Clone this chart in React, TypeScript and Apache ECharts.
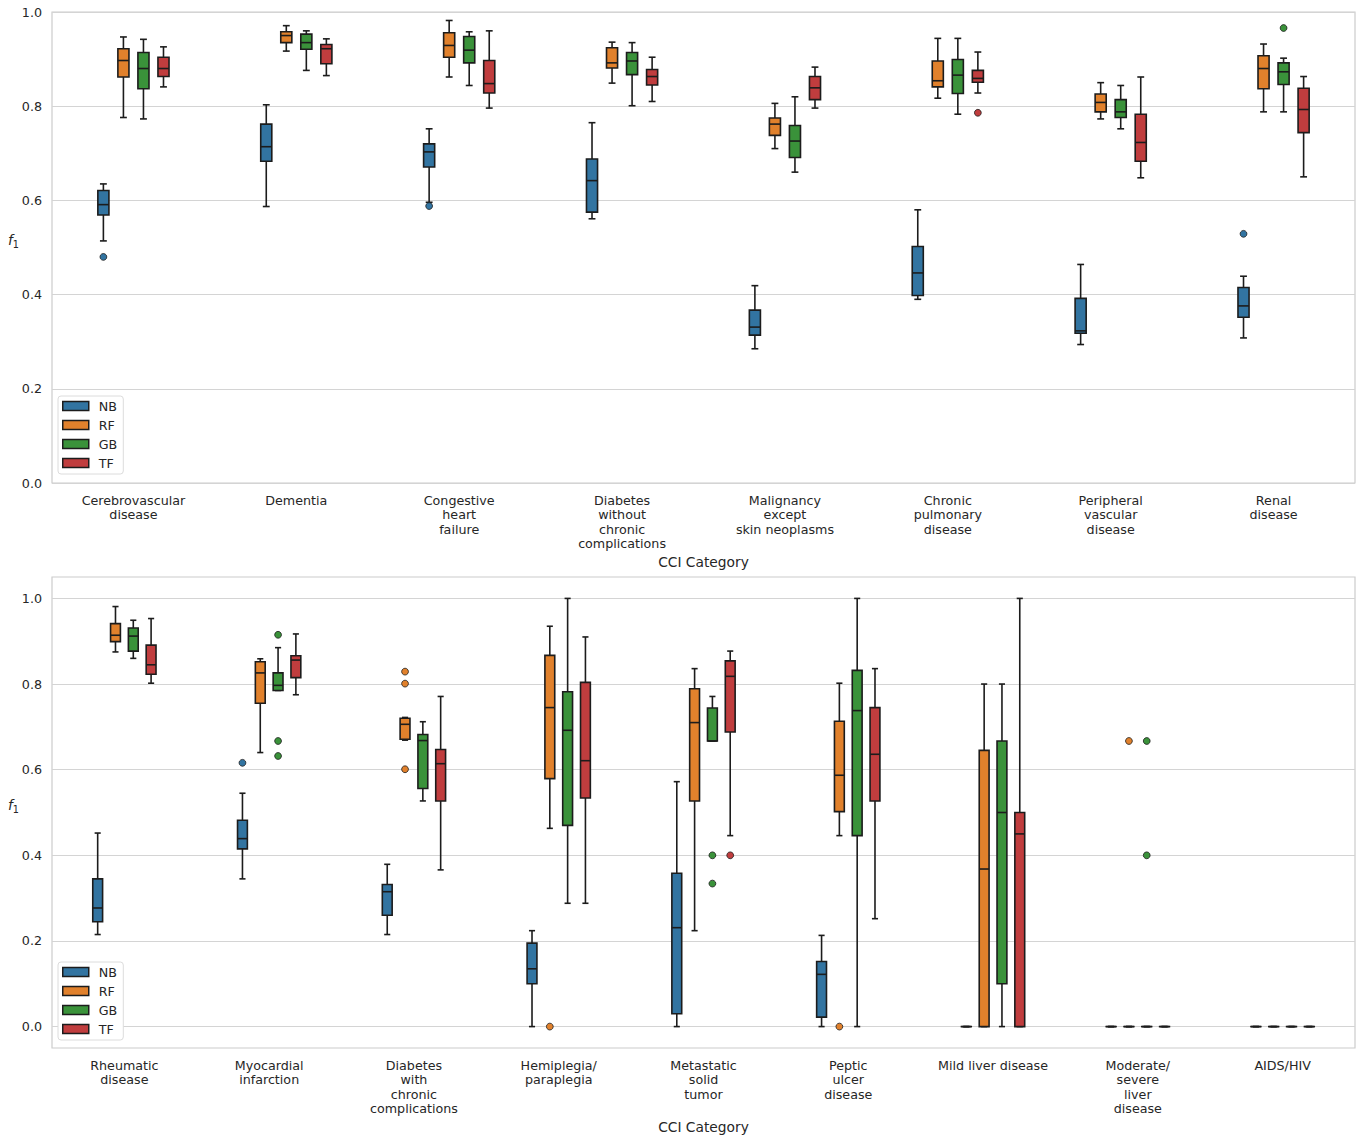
import React, { useEffect, useRef } from "react";
import * as echarts from "echarts";

// Models compared in every CCI category
const MODELS = ["NB", "RF", "GB", "TF"];
const COLORS = ["#3274a1", "#e1812c", "#3a923a", "#c03d3e"];

// ---------- Upper panel ----------
const topCategories = [
  "Cerebrovascular\ndisease",
  "Dementia",
  "Congestive\nheart\nfailure",
  "Diabetes\nwithout\nchronic\ncomplications",
  "Malignancy\nexcept\nskin neoplasms",
  "Chronic\npulmonary\ndisease",
  "Peripheral\nvascular\ndisease",
  "Renal\ndisease",
];

// Each row: [lower whisker, Q1, median, Q3, upper whisker]
const topNB = [
  [0.514, 0.569, 0.591, 0.621, 0.635],
  [0.587, 0.683, 0.714, 0.762, 0.803],
  [0.596, 0.671, 0.703, 0.72, 0.752],
  [0.561, 0.575, 0.642, 0.688, 0.765],
  [0.285, 0.314, 0.331, 0.367, 0.419],
  [0.39, 0.398, 0.446, 0.502, 0.58],
  [0.294, 0.318, 0.323, 0.392, 0.464],
  [0.308, 0.352, 0.376, 0.415, 0.439],
];
const topRF = [
  [0.776, 0.862, 0.897, 0.922, 0.947],
  [0.917, 0.935, 0.95, 0.958, 0.971],
  [0.862, 0.904, 0.929, 0.956, 0.982],
  [0.849, 0.881, 0.892, 0.924, 0.936],
  [0.71, 0.738, 0.762, 0.775, 0.806],
  [0.817, 0.841, 0.854, 0.896, 0.944],
  [0.773, 0.788, 0.808, 0.826, 0.85],
  [0.788, 0.837, 0.88, 0.907, 0.932],
];
const topGB = [
  [0.773, 0.837, 0.88, 0.914, 0.942],
  [0.876, 0.921, 0.935, 0.953, 0.96],
  [0.844, 0.892, 0.919, 0.948, 0.958],
  [0.801, 0.867, 0.896, 0.914, 0.935],
  [0.66, 0.691, 0.726, 0.759, 0.82],
  [0.783, 0.827, 0.866, 0.899, 0.944],
  [0.752, 0.776, 0.788, 0.814, 0.844],
  [0.788, 0.846, 0.873, 0.892, 0.902],
];
const topTF = [
  [0.841, 0.863, 0.88, 0.904, 0.926],
  [0.865, 0.89, 0.922, 0.931, 0.943],
  [0.796, 0.828, 0.848, 0.897, 0.96],
  [0.81, 0.845, 0.863, 0.878, 0.904],
  [0.796, 0.814, 0.839, 0.863, 0.883],
  [0.828, 0.851, 0.859, 0.876, 0.915],
  [0.648, 0.683, 0.723, 0.783, 0.862],
  [0.65, 0.744, 0.793, 0.838, 0.863],
];
// Outliers: [category index, value]
const topOutNB = [[0, 0.48], [2, 0.588], [7, 0.529]];
const topOutRF: number[][] = [];
const topOutGB = [[7, 0.966]];
const topOutTF = [[5, 0.786]];

// ---------- Lower panel ----------
const bottomCategories = [
  "Rheumatic\ndisease",
  "Myocardial\ninfarction",
  "Diabetes\nwith\nchronic\ncomplications",
  "Hemiplegia/\nparaplegia",
  "Metastatic\nsolid\ntumor",
  "Peptic\nulcer\ndisease",
  "Mild liver disease",
  "Moderate/\nsevere\nliver\ndisease",
  "AIDS/HIV",
];

const bottomNB = [
  [0.215, 0.245, 0.277, 0.345, 0.452],
  [0.345, 0.415, 0.439, 0.482, 0.545],
  [0.215, 0.26, 0.315, 0.332, 0.379],
  [0.0, 0.1, 0.135, 0.195, 0.224],
  [0.0, 0.03, 0.231, 0.358, 0.572],
  [0.0, 0.022, 0.122, 0.152, 0.213],
  [0, 0, 0, 0, 0],
  [0, 0, 0, 0, 0],
  [0, 0, 0, 0, 0],
];
const bottomRF = [
  [0.875, 0.899, 0.914, 0.941, 0.981],
  [0.64, 0.755, 0.826, 0.852, 0.859],
  [0.669, 0.671, 0.706, 0.72, 0.722],
  [0.463, 0.579, 0.745, 0.867, 0.935],
  [0.224, 0.527, 0.71, 0.789, 0.836],
  [0.446, 0.502, 0.587, 0.713, 0.802],
  [0.0, 0.0, 0.368, 0.645, 0.8],
  [0, 0, 0, 0, 0],
  [0, 0, 0, 0, 0],
];
const bottomGB = [
  [0.86, 0.877, 0.912, 0.931, 0.949],
  [0.785, 0.785, 0.797, 0.826, 0.885],
  [0.527, 0.556, 0.668, 0.682, 0.712],
  [0.288, 0.47, 0.692, 0.782, 1.0],
  [0.667, 0.667, 0.667, 0.744, 0.771],
  [0.0, 0.446, 0.738, 0.832, 1.0],
  [0.0, 0.1, 0.5, 0.667, 0.8],
  [0, 0, 0, 0, 0],
  [0, 0, 0, 0, 0],
];
const bottomTF = [
  [0.802, 0.823, 0.845, 0.891, 0.953],
  [0.775, 0.815, 0.856, 0.866, 0.917],
  [0.366, 0.527, 0.614, 0.647, 0.771],
  [0.288, 0.534, 0.621, 0.804, 0.91],
  [0.446, 0.688, 0.818, 0.854, 0.877],
  [0.252, 0.527, 0.636, 0.745, 0.836],
  [0.0, 0.0, 0.45, 0.5, 1.0],
  [0, 0, 0, 0, 0],
  [0, 0, 0, 0, 0],
];
const bottomOutNB = [[1, 0.616]];
const bottomOutRF = [[2, 0.829], [2, 0.801], [2, 0.601], [3, 0.0], [5, 0.0], [7, 0.667]];
const bottomOutGB = [[1, 0.915], [1, 0.667], [1, 0.632], [4, 0.4], [4, 0.334], [7, 0.667], [7, 0.4]];
const bottomOutTF = [[4, 0.4]];

const yTicks = [0, 0.2, 0.4, 0.6, 0.8, 1.0];

// Layout of the four boxes inside one category band (fractions of band width)
const SLOT_FRAC = 0.123;
const BOX_FRAC = 0.068;
const EDGE = "#1c1c1c";
const LW = 1.6;
const FONT = "DejaVu Sans";
const TEXT = "#262626";
const GRID_LINE = "#d4d4d4";
const TICK_SIZE = 12.7;

function boxRenderer(slot: number, color: string) {
  return (_params: any, api: any) => {
    const cat = api.value(0);
    const band = api.size([1, 0])[0];
    const cx = api.coord([cat, 0])[0] + (slot - 1.5) * band * SLOT_FRAC;
    const half = (band * BOX_FRAC) / 2;
    const cap = half * 0.62;
    const yAt = (k: number) => api.coord([cat, api.value(k)])[1];
    const yLo = yAt(1);
    const yQ1 = yAt(2);
    const yMed = yAt(3);
    const yQ3 = yAt(4);
    const yHi = yAt(5);
    const ls = { stroke: EDGE, lineWidth: LW, fill: null };
    return {
      type: "group",
      children: [
        { type: "line", shape: { x1: cx, y1: yLo, x2: cx, y2: yQ1 }, style: ls },
        { type: "line", shape: { x1: cx, y1: yQ3, x2: cx, y2: yHi }, style: ls },
        { type: "line", shape: { x1: cx - cap, y1: yLo, x2: cx + cap, y2: yLo }, style: ls },
        { type: "line", shape: { x1: cx - cap, y1: yHi, x2: cx + cap, y2: yHi }, style: ls },
        {
          type: "rect",
          shape: { x: cx - half, y: yQ3, width: half * 2, height: Math.max(yQ1 - yQ3, 0.01) },
          style: { fill: color, stroke: EDGE, lineWidth: LW },
        },
        { type: "line", shape: { x1: cx - half, y1: yMed, x2: cx + half, y2: yMed }, style: ls },
      ],
    };
  };
}

function outlierRenderer(slot: number, color: string) {
  return (_params: any, api: any) => {
    const cat = api.value(0);
    const band = api.size([1, 0])[0];
    const p = api.coord([cat, api.value(1)]);
    const cx = p[0] + (slot - 1.5) * band * SLOT_FRAC;
    return {
      type: "circle",
      shape: { cx, cy: p[1], r: 3.4 },
      style: { fill: color, stroke: EDGE, lineWidth: 0.8 },
    };
  };
}

function buildSeries(axisIndex: number, boxes: number[][][], outliers: number[][][]) {
  const list: any[] = [];
  MODELS.forEach((name, m) => {
    list.push({
      type: "custom",
      name,
      xAxisIndex: axisIndex,
      yAxisIndex: axisIndex,
      itemStyle: { color: COLORS[m] },
      renderItem: boxRenderer(m, COLORS[m]),
      encode: { x: 0, y: [1, 2, 3, 4, 5] },
      data: boxes[m].map((row, i) => [i, ...row]),
      z: 3,
    });
    list.push({
      type: "custom",
      name,
      xAxisIndex: axisIndex,
      yAxisIndex: axisIndex,
      itemStyle: { color: COLORS[m] },
      renderItem: outlierRenderer(m, COLORS[m]),
      encode: { x: 0, y: 1 },
      data: outliers[m],
      z: 4,
    });
  });
  return list;
}

function legendFor(top: number) {
  return {
    orient: "vertical",
    left: 58,
    top,
    icon: "rect",
    itemWidth: 26,
    itemHeight: 9,
    itemGap: 5,
    padding: [3, 6, 4, 4],
    backgroundColor: "#ffffff",
    borderColor: "#dcdcdc",
    borderWidth: 1,
    borderRadius: 3,
    selectedMode: false,
    textStyle: { fontFamily: FONT, fontSize: TICK_SIZE, color: TEXT, lineHeight: 14, padding: [0, 0, 0, 5] },
    data: MODELS.map((name, m) => ({
      name,
      itemStyle: { color: COLORS[m], borderColor: EDGE, borderWidth: 1.5 },
    })),
  };
}

function xAxisFor(gridIndex: number, cats: string[]) {
  return {
    type: "category",
    gridIndex,
    data: cats,
    axisLine: { show: false },
    axisTick: { show: false },
    splitLine: { show: false },
    axisLabel: {
      interval: 0,
      margin: 10,
      fontFamily: FONT,
      fontSize: TICK_SIZE,
      lineHeight: 14.5,
      color: TEXT,
    },
    name: "CCI Category",
    nameLocation: "middle",
    nameGap: 72,
    nameMoveOverlap: false,
    nameTextStyle: { fontFamily: FONT, fontSize: 13.8, color: TEXT },
  };
}

function yAxisFor(gridIndex: number, min: number, max: number) {
  return {
    type: "value",
    gridIndex,
    min,
    max,
    axisLine: { show: false },
    axisTick: { show: false, customValues: yTicks },
    splitLine: { show: true, lineStyle: { color: GRID_LINE, width: 1.1 } },
    axisLabel: {
      customValues: yTicks,
      margin: 10,
      fontFamily: FONT,
      fontSize: TICK_SIZE,
      color: TEXT,
      formatter: (v: number) => v.toFixed(1),
    },
    name: "{f|f}{s|1}",
    nameLocation: "middle",
    nameRotate: 0,
    nameGap: 33,
    nameMoveOverlap: false,
    nameTextStyle: {
      padding: [0, 0, 16, 0],
      rich: {
        f: { fontFamily: FONT, fontStyle: "italic", fontSize: 13.8, color: TEXT, lineHeight: 20, verticalAlign: "middle" },
        s: { fontFamily: FONT, fontSize: 9.7, color: TEXT, lineHeight: 9, verticalAlign: "bottom" },
      },
    },
  };
}

export default function App() {
  const ref = useRef<HTMLDivElement>(null);

  useEffect(() => {
    if (!ref.current) return;
    const chart = echarts.init(ref.current, undefined, { renderer: "svg" });
    chart.setOption({
      animation: false,
      backgroundColor: "#ffffff",
      textStyle: { fontFamily: FONT },
      grid: [
        { left: 52, right: 8, top: 12, height: 471, show: true, borderColor: "#cccccc", borderWidth: 1.2, backgroundColor: "transparent" },
        { left: 52, right: 8, top: 577, height: 471, show: true, borderColor: "#cccccc", borderWidth: 1.2, backgroundColor: "transparent" },
      ],
      legend: [legendFor(396), legendFor(962)],
      xAxis: [xAxisFor(0, topCategories), xAxisFor(1, bottomCategories)],
      yAxis: [yAxisFor(0, 0, 1), yAxisFor(1, -0.05, 1.05)],
      series: [
        ...buildSeries(0, [topNB, topRF, topGB, topTF], [topOutNB, topOutRF, topOutGB, topOutTF]),
        ...buildSeries(1, [bottomNB, bottomRF, bottomGB, bottomTF], [bottomOutNB, bottomOutRF, bottomOutGB, bottomOutTF]),
      ],
    });
    return () => chart.dispose();
  }, []);

  return (
    <div
      ref={ref}
      style={{ position: "absolute", left: 0, top: 0, width: 1363, height: 1137, background: "#fff" }}
    />
  );
}
